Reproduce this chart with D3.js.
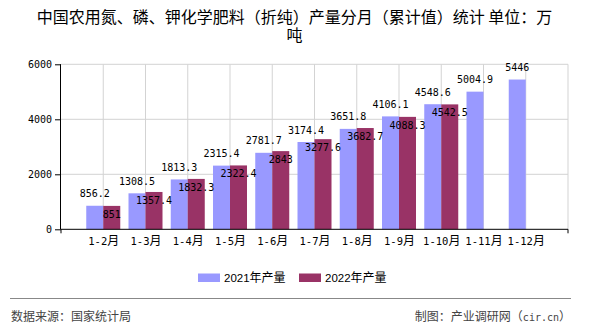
<!DOCTYPE html>
<html><head><meta charset="utf-8">
<script src="https://cdn.jsdelivr.net/npm/d3@7/dist/d3.min.js"></script>
<style>body{margin:0;background:#fff;}svg{display:block;}</style>
</head><body>
<svg id="chart" width="590" height="330"></svg>
<script>
const categories = ["1-2月","1-3月","1-4月","1-5月","1-6月","1-7月","1-8月","1-9月","1-10月","1-11月","1-12月"];
const values2021 = [856.2,1308.5,1813.3,2315.4,2781.7,3174.4,3651.8,4106.1,4548.6,5004.9,5446];
const values2022 = [851,1357.4,1832.3,2322.4,2843,3277.6,3682.7,4088.3,4542.5,null,null];
const seriesNames = ["2021年产量","2022年产量"];
const seriesColors = ["#9999FF","#993366"];
const yTicks = [0,2000,4000,6000];
const titleLines = ["中国农用氮、磷、钾化学肥料（折纯）产量分月（累计值）统计 单位：万","吨"];
const sourceText = "数据来源：国家统计局";
const creditText = "制图：产业调研网（cir.cn）";

const svg = d3.select("#chart");
const L = 61, R = 568, T = 64.3, B = 229.3;
const x = d3.scalePoint().domain(categories).range([L, R]).padding(1);
const y = d3.scaleLinear().domain([0, 6000]).range([B, T]);
const barW = 17;
const MONO = "'DejaVu Sans Mono', monospace";
const CJK = "'Noto Sans CJK SC', sans-serif";

function mixed(sel, str, asciiSize, cjkSize, asciiFont) {
  const parts = str.match(/[\x00-\x7F]+|[^\x00-\x7F]+/g) || [];
  parts.forEach(p => {
    const ascii = /^[\x00-\x7F]+$/.test(p);
    sel.append("tspan").text(p)
      .attr("font-family", ascii ? (asciiFont || MONO) : CJK)
      .attr("font-size", ascii ? asciiSize : cjkSize);
  });
}

// gridlines
const grid = svg.append("g");
yTicks.filter(v => v > 0).forEach(v => {
  grid.append("line").attr("x1", L).attr("x2", R).attr("y1", y(v)).attr("y2", y(v))
    .attr("stroke", "#d3d3d3").attr("stroke-width", 1);
});
categories.forEach(c => {
  grid.append("line").attr("x1", x(c)).attr("x2", x(c)).attr("y1", T).attr("y2", B)
    .attr("stroke", "#d3d3d3").attr("stroke-width", 1);
});
grid.append("line").attr("x1", R).attr("x2", R).attr("y1", T).attr("y2", B)
  .attr("stroke", "#d3d3d3").attr("stroke-width", 1);

// bars
const bars = svg.append("g");
bars.selectAll("rect.s1").data(categories).enter().append("rect")
  .attr("x", d => x(d) - barW).attr("width", barW)
  .attr("y", (d, i) => y(values2021[i])).attr("height", (d, i) => B - y(values2021[i]))
  .attr("fill", seriesColors[0]);
bars.selectAll("rect.s2").data(categories.filter((d, i) => values2022[i] != null)).enter().append("rect")
  .attr("x", d => x(d)).attr("width", barW)
  .attr("y", (d, i) => y(values2022[i])).attr("height", (d, i) => B - y(values2022[i]))
  .attr("fill", seriesColors[1]);

// data labels
const lbl = svg.append("g").attr("font-family", MONO).attr("font-size", 10).attr("fill", "#000").attr("text-anchor", "middle");
categories.forEach((c, i) => {
  lbl.append("text").attr("x", x(c) - barW / 2).attr("y", y(values2021[i]) - 8.5).text(String(values2021[i]));
  if (values2022[i] != null)
    lbl.append("text").attr("x", x(c) + barW / 2).attr("y", y(values2022[i]) + 12).text(String(values2022[i]));
});

// y axis
const ya = svg.append("g").attr("transform", `translate(${L},0)`)
  .call(d3.axisLeft(y).tickValues(yTicks).tickSize(6).tickPadding(3).tickFormat(d3.format("d")));
ya.select(".domain").attr("stroke", "#000").attr("d", `M-0.5,${T}V${B}`);
ya.selectAll(".tick line").attr("stroke", "#000");
ya.selectAll(".tick text").attr("font-family", MONO).attr("font-size", 10).attr("fill", "#000");

// x axis
const xa = svg.append("g").attr("transform", `translate(0,${B})`)
  .call(d3.axisBottom(x).tickSize(0).tickPadding(0));
xa.select(".domain").attr("stroke", "#000").attr("d", `M${L},4V0H${R}V4`);
xa.selectAll(".tick text").each(function(d) {
  const t = d3.select(this);
  t.text(null).attr("y", 16).attr("dy", null).attr("fill", "#000");
  mixed(t, d, 10.5, 12);
});

// title
const title = svg.append("text").attr("text-anchor", "middle").attr("font-family", CJK)
  .attr("font-size", 16).attr("fill", "#000");
titleLines.forEach((s, i) => title.append("tspan").attr("x", 294.5).attr("y", 22.5 + i * 18.5).text(s));

// legend
const legX = [198, 299];
seriesNames.forEach((n, i) => {
  svg.append("rect").attr("x", legX[i]).attr("y", 273.5).attr("width", 22).attr("height", 8.5).attr("fill", seriesColors[i]);
  const t = svg.append("text").attr("x", legX[i] + 26).attr("y", 282).attr("fill", "#000");
  mixed(t, n, 11.5, 12, "'Liberation Sans', sans-serif");
});

// footer
svg.append("line").attr("x1", 10).attr("x2", 571).attr("y1", 298.5).attr("y2", 298.5)
  .attr("stroke", "#888").attr("stroke-width", 1.2);
svg.append("text").attr("x", 11).attr("y", 320.5).attr("font-family", CJK).attr("font-size", 12)
  .attr("fill", "#444").text(sourceText);
const cr = svg.append("text").attr("x", 571).attr("y", 320.5).attr("text-anchor", "end").attr("fill", "#444");
mixed(cr, creditText, 10, 12);
</script>
</body></html>
